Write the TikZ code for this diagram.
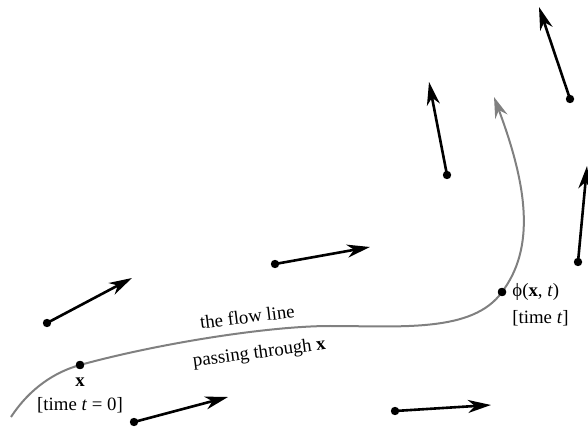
\documentclass[tikz,border=0pt]{standalone}
\usepackage{fontspec}
\setmainfont{Liberation Serif}
\usepackage{tikz}
\usetikzlibrary{arrows.meta, positioning}

\begin{document}
\begin{tikzpicture}[
  x=0.5pt, y=0.5pt,
  every node/.style={font=\fontsize{9.4}{11}\selectfont, inner sep=0pt},
  dot/.style={circle, fill=black, minimum size=4.2pt},
  vec/.style={-{Stealth[length=11.5pt, width=6.5pt, inset=3.5pt]}, line width=1.3pt, black},
  flowline/.style={-{Stealth[length=10.5pt, width=6.5pt, inset=3.5pt]}, line width=1pt, gray}
]
\useasboundingbox (0,0) rectangle (588,428);

% the vector field
\foreach \i/\a/\b/\c/\d in {1/47/105/132/150, 2/134/6/228/31, 3/275/164/370/181,
  4/395/17/491/23, 5/447/253/429/346, 6/570/329/539/421, 7/578/166/587/262} {
  \node [dot] (v\i) at (\a,\b) {};
  \coordinate (w\i) at (\c,\d);
  \draw [vec] (v\i.center) -- (w\i);
}

% the flow line through x
\coordinate (start) at (11,11);
\coordinate (mid) at (330,102);
\coordinate (end) at (494,331);
\node [dot] (x0) at (80,63) {};
\node [dot] (phi) at (502,136) {};

\draw [flowline] (start) .. controls (30,40) and (55,56) .. (x0.center)
  .. controls (160,85) and (270,102) .. (mid)
  .. controls (400,102) and (473,95) .. (phi.center)
  .. controls (535,180) and (528,240) .. (end);
\node [dot] at (x0) {};
\node [dot] at (phi) {};

\node [font=\fontsize{9.4}{11}\selectfont\bfseries] (xlab) at (80,46) {x};
\node (xtime) at (80,23) {[time \textit{t} = 0]};
\node [anchor=west] (philab) at (512,136) {ϕ(\textbf{x}, \textit{t})};
\node [anchor=west] (phitime) at (512,110) {[time \textit{t}]};
\node [rotate=7, anchor=base] (flowlab) at (248,105) {the flow line};
\node [rotate=7.5, anchor=base] (passlab) at (260,70) {passing through \textbf{x}};

\end{tikzpicture}
\end{document}
